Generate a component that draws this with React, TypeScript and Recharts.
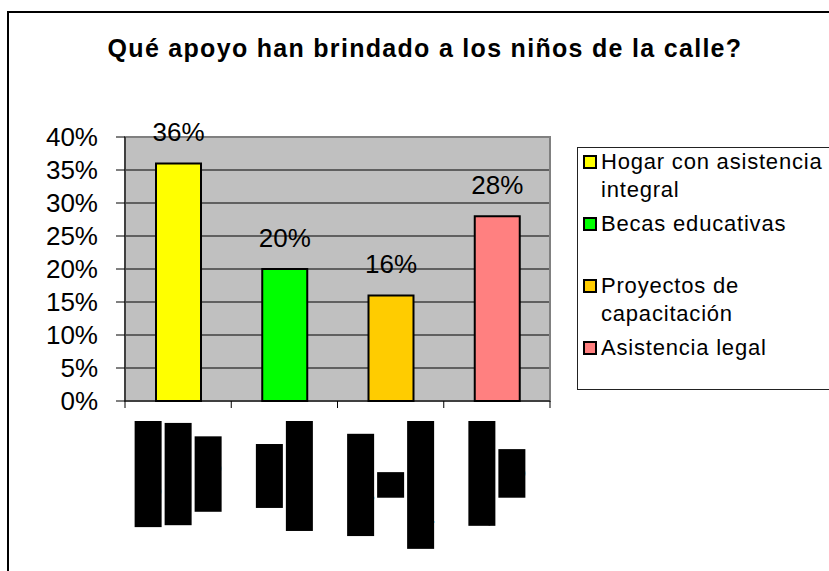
import React from "react";
import {
  BarChart,
  Bar,
  Cell,
  XAxis,
  YAxis,
  CartesianGrid,
  LabelList,
  Legend,
  ReferenceArea,
} from "recharts";

const TITLE = "Qué apoyo han brindado a los niños de la calle?";
const CATEGORIES = [
  "Hogar con asistencia integral",
  "Becas educativas",
  "Proyectos de capacitación",
  "Asistencia legal",
];
const VALUES = [36, 20, 16, 28];
const COLORS = ["#FFFF00", "#00FF00", "#FFCC00", "#FF8080"];
const Y_TICKS = [0, 5, 10, 15, 20, 25, 30, 35, 40];
// legend text broken the way the original wraps it
const LEGEND_LINES = [
  ["Hogar con asistencia", "integral"],
  ["Becas educativas"],
  ["Proyectos de", "capacitación"],
  ["Asistencia legal"],
];

const FONT = '"Liberation Sans", Arial, sans-serif';

const data = CATEGORIES.map((name, i) => ({ name, value: VALUES[i] }));

let ctx: CanvasRenderingContext2D | null = null;
function measure(text: string, size: number) {
  if (!ctx) ctx = document.createElement("canvas").getContext("2d");
  if (!ctx) return text.length * size * 0.5;
  ctx.font = `${size}px ${FONT}`;
  return ctx.measureText(text).width;
}

function wrap(text: string, size: number, maxW: number) {
  const words = text.split(" ");
  const lines: string[] = [];
  let cur = "";
  for (const w of words) {
    const next = cur ? cur + " " + w : w;
    if (cur && measure(next, size) > maxW) {
      lines.push(cur);
      cur = w;
    } else cur = next;
  }
  if (cur) lines.push(cur);
  return lines;
}

// category labels are rotated and blacked out in the original
function CategoryTick(props: any) {
  const { x, y, payload, index } = props;
  const half = payload?.offset || 53;
  const size = 23;
  const lines = wrap(String(payload.value), size, 122);
  const widths = lines.map((l) => measure(l, size));
  const maxW = Math.max(...widths);
  const pitch = 30;
  const x0 = x - (lines.length * pitch) / 2;
  return (
    <g>
      <line x1={x - half} x2={x - half} y1={y} y2={y + 7} stroke="#000" />
      {index === CATEGORIES.length - 1 && (
        <line x1={x + half} x2={x + half} y1={y} y2={y + 7} stroke="#000" />
      )}
      {lines.map((l, i) => {
        const rx = x0 + i * pitch + 1.5;
        const ry = y + 20 + (maxW - widths[i]) / 2;
        const cx = rx + 13.5;
        const cy = ry + widths[i] / 2;
        return (
          <g key={i}>
            <rect x={rx} y={ry} width={27} height={widths[i]} fill="#000" />
            <text
              x={cx}
              y={cy}
              transform={`rotate(-90 ${cx} ${cy})`}
              textAnchor="middle"
              dominantBaseline="central"
              fontSize={size}
              fontFamily={FONT}
              fill="#000"
            >
              {l}
            </text>
          </g>
        );
      })}
    </g>
  );
}

function LegendBox() {
  return (
    <div
      style={{
        width: 272,
        height: 243,
        border: "1px solid #222",
        boxSizing: "border-box",
        fontFamily: FONT,
        fontSize: 22,
        color: "#000",
        background: "#fff",
      }}
    >
      {CATEGORIES.map((c, i) => (
        <div key={c} style={{ position: "relative", height: 62 }}>
          <div
            style={{
              position: "absolute",
              left: 5,
              top: 7,
              width: 10,
              height: 10,
              background: COLORS[i],
              border: "2px solid #000",
            }}
          />
          <div
            style={{
              position: "absolute",
              left: 23,
              top: 0,
              lineHeight: "28px",
              letterSpacing: 0.8,
              whiteSpace: "nowrap",
            }}
          >
            {LEGEND_LINES[i].map((l) => (
              <div key={l}>{l}</div>
            ))}
          </div>
        </div>
      ))}
    </div>
  );
}

export default function App() {
  return (
    <div
      style={{
        position: "fixed",
        left: 0,
        top: 0,
        width: 829,
        height: 571,
        overflow: "hidden",
        background: "#fff",
      }}
    >
      <div
        style={{
          position: "absolute",
          left: 7,
          top: 11,
          width: 900,
          height: 700,
          border: "2px solid #000",
        }}
      />
      <svg
        width={829}
        height={80}
        style={{ position: "absolute", left: 0, top: 0 }}
      >
        <text
          x={425}
          y={57}
          textAnchor="middle"
          fontFamily={FONT}
          fontWeight="bold"
          fontSize={25}
          letterSpacing={1.3}
          fill="#000"
        >
          {TITLE}
        </text>
      </svg>
      <div style={{ position: "absolute", left: 0, top: 0 }}>
        <BarChart
          width={829}
          height={571}
          data={data}
          margin={{ top: 137, right: 279, bottom: 0, left: 0 }}
          barCategoryGap={0}
        >
          <CartesianGrid
            vertical={false}
            stroke="#000"
            fill="#C0C0C0"
            fillOpacity={1}
          />
          <ReferenceArea
            y1={0}
            y2={40}
            fill="none"
            stroke="#808080"
            strokeWidth={2}
          />
          <XAxis
            dataKey="name"
            interval={0}
            height={170}
            axisLine={{ stroke: "#000" }}
            tickLine={false}
            tickSize={0}
            tickMargin={0}
            tick={<CategoryTick />}
          />
          <YAxis
            width={125}
            domain={[0, 40]}
            ticks={Y_TICKS}
            interval={0}
            tickFormatter={(v: number) => `${v}%`}
            axisLine={{ stroke: "#000" }}
            tickLine={{ stroke: "#000" }}
            tickSize={9}
            tickMargin={18}
            tick={{ fill: "#000", fontSize: 26, fontFamily: FONT }}
          />
          <Legend
            layout="horizontal"
            align="center"
            verticalAlign="middle"
            wrapperStyle={{ left: 577, top: 147, width: 272, height: 243 }}
            content={() => <LegendBox />}
          />
          <Bar
            dataKey="value"
            barSize={45}
            stroke="#000"
            strokeWidth={2}
            isAnimationActive={false}
          >
            {data.map((d, i) => (
              <Cell key={d.name} fill={COLORS[i]} />
            ))}
            <LabelList
              dataKey="value"
              position="top"
              offset={22}
              formatter={(v: any) => `${v}%`}
              fill="#000"
              fontSize={26}
              fontFamily={FONT}
            />
          </Bar>
        </BarChart>
      </div>
    </div>
  );
}
